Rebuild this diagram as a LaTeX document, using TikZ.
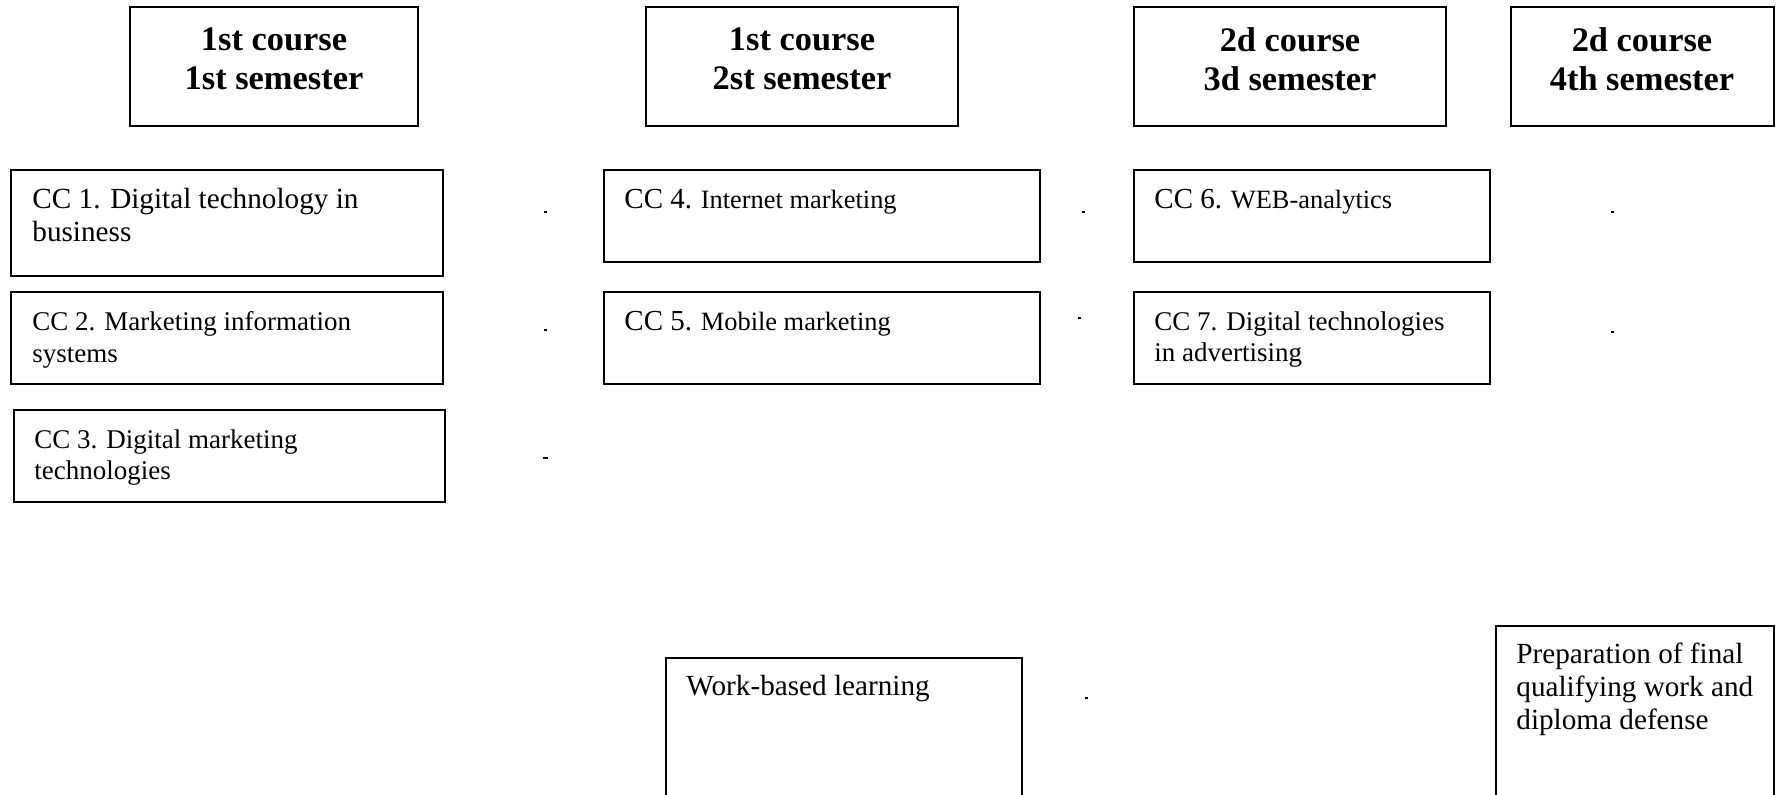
\documentclass[tikz,border=0pt]{standalone}
\usepackage{fontspec}
\setmainfont{Liberation Serif}

\tikzset{
  box/.style={draw, line width=1pt},
  head/.style={anchor=north, inner sep=0pt, align=center, font=\fontsize{17.2}{19.5}\selectfont\bfseries},
  txt/.style={anchor=north west, inner sep=0pt, align=left, font=\fontsize{13.5}{15.8}\selectfont},
  bigtxt/.style={txt, font=\fontsize{14.6}{16.4}\selectfont},
}
\newcommand{\ccnum}[1]{{\fontsize{14.5}{16}\selectfont #1}}

\begin{document}
\begin{tikzpicture}[x=0.5pt,y=0.5pt,yscale=-1,xscale=1]
\clip (0,0) rectangle (1776,795);
\fill [white] (0,0) rectangle (1776,795);

%Shape: Rectangle [semester headers]
\draw [box] (130,7) rectangle (418,126);
\draw [box] (646,7) rectangle (958,126);
\draw [box] (1134,7) rectangle (1446,126);
\draw [box] (1511,7) rectangle (1774,126);

%Shape: Rectangle [course components]
\draw [box] (11,170) rectangle (443,276);
\draw [box] (11,292) rectangle (443,384);
\draw [box] (14,410) rectangle (445,502);
\draw [box] (604,170) rectangle (1040,262);
\draw [box] (604,292) rectangle (1040,384);
\draw [box] (1134,170) rectangle (1490,262);
\draw [box] (1134,292) rectangle (1490,384);

%Shape: Rectangle [practice]
\draw [box] (666,658) rectangle (1022,820);
\draw [box] (1496,626) rectangle (1774,820);

%Shape: small dots
\fill (544,211) rectangle (547,213);
\fill (544,329) rectangle (547,331);
\fill (543,457) rectangle (548,459);
\fill (1082,211) rectangle (1085,213);
\fill (1078,317) rectangle (1081,319);
\fill (1611,211) rectangle (1614,213);
\fill (1611,331) rectangle (1614,333);
\fill (1085,697) rectangle (1088,699);

% Text Node
\node [head] (h1) at (274,27) {1st course\\1st semester};
% Text Node
\node [head] (h2) at (802,27) {1st course\\2st semester};
% Text Node
\node [head] (h3) at (1290,27) {2d course\\3d semester};
% Text Node
\node [head] (h4) at (1642,27) {2d course\\4th semester};

% Text Node
\node [bigtxt] (cc1) at (32,188) {CC 1. Digital technology in\\business};
% Text Node
\node [txt] (cc2) at (32,311) {CC 2. Marketing information\\systems};
% Text Node
\node [txt] (cc3) at (34,429) {CC 3. Digital marketing\\technologies};
% Text Node
\node [txt, font=\fontsize{13.2}{15.8}\selectfont] (cc4) at (624,189) {\ccnum{CC 4.} Internet marketing};
% Text Node
\node [txt, font=\fontsize{13.2}{15.8}\selectfont] (cc5) at (624,311) {\ccnum{CC 5.} Mobile marketing};
% Text Node
\node [txt, font=\fontsize{13.2}{15.8}\selectfont] (cc6) at (1154,189) {\ccnum{CC 6.} WEB-analytics};
% Text Node
\node [txt] (cc7) at (1154,311) {CC 7. Digital technologies\\in advertising};
% Text Node
\node [bigtxt] (wbl) at (686,675) {Work-based learning};
% Text Node
\node [bigtxt] (prep) at (1516,643) {Preparation of final\\qualifying work and\\diploma defense};

\end{tikzpicture}
\end{document}
